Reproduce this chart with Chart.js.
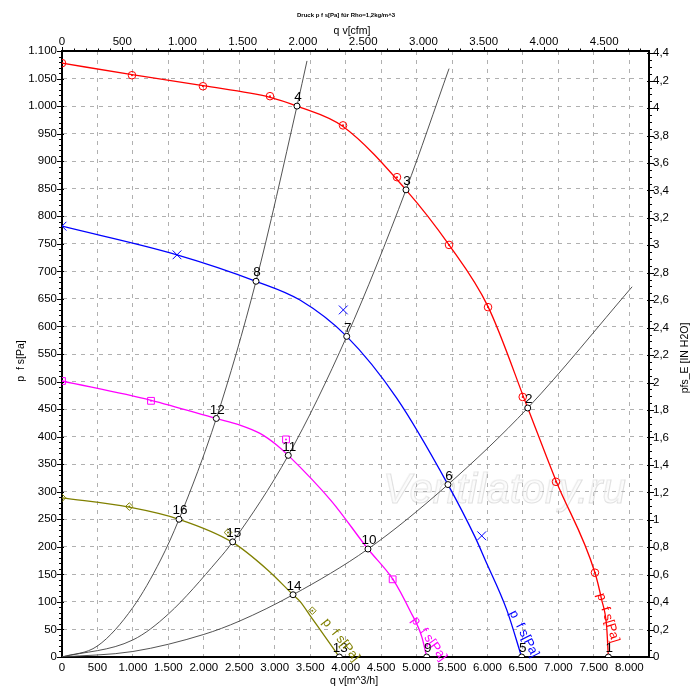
<!DOCTYPE html>
<html>
<head>
<meta charset="utf-8">
<script src="https://cdn.jsdelivr.net/npm/chart.js@4.4.1/dist/chart.umd.min.js"></script>
<style>
html,body{margin:0;padding:0;background:#fff;}
#wrap{width:700px;height:700px;position:relative;}
</style>
</head>
<body>
<div id="wrap"><canvas id="c" width="700" height="700"></canvas></div>
<script>
// ---------- DATA (q_v in m^3/h, p_fs in Pa) ----------
// Fan characteristic curves (line points)
const redQ = [0, 987, 1988, 2933, 3314, 3963, 4851, 5458, 6008, 6568, 6966, 7516, 7610, 7680, 7705];
const redP = [1078, 1057, 1037, 1016, 1000, 963, 848, 748, 636, 452, 320, 153, 104, 56, 0];
const blueQ = [0, 1622, 2736, 3356, 4015, 4720, 5443, 5824, 5965, 6271, 6482];
const blueP = [782, 730, 682, 648, 582, 470, 313, 218, 177, 86, 0];
const magQ = [0, 1255, 2176, 2510, 2792, 3027, 3191, 3800, 4315, 4672, 4908, 5073, 5143];
const magP = [501, 466, 433, 421, 406, 385, 366, 283, 196, 140, 84, 37, 0];
const oliveQ = [0, 949, 1650, 2407, 2900, 3258, 3356, 3521, 3709, 3911];
const oliveP = [289, 272, 250, 208, 158, 113, 101, 71, 37, 0];

// Measured markers on the fan curves
const redMarkQ = [0, 987, 1988, 2933, 3963, 4724, 5458, 6008, 6497, 6966, 7516];
const redMarkP = [1078, 1056, 1036, 1018, 965, 871, 748, 635, 472, 318, 153];
const blueMarkQ = [0, 1622, 3967, 5919];
const blueMarkP = [782, 730, 630, 220];
const magMarkQ = [0, 1255, 3159, 4663];
const magMarkP = [501, 465, 395, 141];
const oliveMarkQ = [0, 949, 2341, 3530];
const oliveMarkP = [289, 273, 226, 84];

// System (resistance) curves
const sysAQ = [0, 500, 1000, 1390, 1650, 2176, 2736, 3314, 3455];
const sysAP = [0, 20, 90, 176, 250, 433, 682, 1000, 1082];
const sysBQ = [0, 1000, 1500, 2200, 2407, 3191, 4015, 4851, 5458];
const sysBP = [0, 31, 78, 176, 209, 366, 582, 848, 1068];
const sysCQ = [0, 1000, 2000, 2500, 3258, 4315, 5443, 6568, 8040];
const sysCP = [0, 10, 41, 65, 113, 196, 313, 452, 672];

// Numbered operating points
const opNames = ['1','2','3','4','5','6','7','8','9','10','11','12','13','14','15','16'];
const opQ = [7705, 6568, 4851, 3314, 6482, 5443, 4015, 2736, 5143, 4315, 3191, 2176, 3911, 3258, 2407, 1650];
const opP = [0, 452, 848, 1000, 0, 313, 582, 682, 0, 196, 366, 433, 0, 113, 209, 250];

// Axis ranges / ticks
const xMax = 8278;            // m^3/h
const cfmFactor = 1.699;      // m^3/h per cfm
const yMax = 1100;            // Pa
const paPerInH2O = 249.089;
const xTicks = [0, 500, 1000, 1500, 2000, 2500, 3000, 3500, 4000, 4500, 5000, 5500, 6000, 6500, 7000, 7500, 8000];
const x2Ticks = [0, 500, 1000, 1500, 2000, 2500, 3000, 3500, 4000, 4500];
const yStep = 50, y2Step = 0.2;

// Texts
const chartTitle = 'Druck p f s[Pa] für Rho=1,2kg/m^3';
const xTitle = 'q v[m^3/h]';
const x2Title = 'q v[cfm]';
const yTitle = 'p  f s[Pa]';
const y2Title = 'pfs_E [IN H2O]';
const curveLabel = 'p  f s[Pa]';
const watermark = 'Ventilatory.ru';

// ---------- helpers ----------
const FONT = '"Liberation Sans", Arial, sans-serif';
const pts = (qs, ps) => qs.map((q, i) => ({x: q, y: ps[i]}));
function fmtThousands(v){
  const n = Math.round(v);
  if (n >= 1000) return Math.floor(n/1000) + '.' + String(n % 1000).padStart(3, '0');
  return String(n);
}
function fmtComma(v){
  const r = Math.round(v*10)/10;
  return String(r).replace('.', ',');
}
const RED = '#ff0000', BLUE = '#0000ff', MAG = '#ff00ff', OLIVE = '#808000', SYS = '#404040';

function lineDs(qs, ps, color, width, order){
  return {type:'line', data: pts(qs, ps), borderColor: color, borderWidth: width,
    pointRadius: 0, fill: false, cubicInterpolationMode: 'monotone', order: order};
}
function markDs(qs, ps, color, style, radius, order){
  return {type:'line', data: pts(qs, ps), showLine: false, pointStyle: style,
    pointRadius: radius, pointBorderColor: color, pointBackgroundColor: 'rgba(0,0,0,0)',
    pointBorderWidth: 1, borderColor: color, order: order};
}
function dotDs(qs, ps, color, order){
  return {type:'line', data: pts(qs, ps), showLine: false, pointStyle: 'circle',
    pointRadius: 1, pointBorderWidth: 0, pointBackgroundColor: color, borderColor: color, order: order};
}

const curveLabels = [
  {q: 7700, p: 71, angle: 73, color: RED},
  {q: 6515, p: 42, angle: 63, color: BLUE},
  {q: 5175, p: 33, angle: 54, color: MAG},
  {q: 3934, p: 31, angle: 51, color: OLIVE}
];

const extras = {
  id: 'extras',
  beforeDatasetsDraw(chart){
    const ctx = chart.ctx;
    ctx.save();
    ctx.font = 'italic 42px ' + FONT;
    ctx.textAlign = 'left';
    ctx.textBaseline = 'alphabetic';
    ctx.lineWidth = 1.2;
    ctx.strokeStyle = 'rgba(180,180,180,0.4)';
    ctx.strokeText(watermark, 383, 503);
    ctx.fillStyle = 'rgba(248,248,248,0.5)';
    ctx.fillText(watermark, 382, 502);
    ctx.restore();
  },
  afterDatasetsDraw(chart){
    const ctx = chart.ctx, xs = chart.scales.x, ys = chart.scales.y;
    ctx.save();
    ctx.font = '13.5px ' + FONT;
    ctx.fillStyle = '#000';
    ctx.textAlign = 'center';
    ctx.textBaseline = 'middle';
    opNames.forEach((n, i) => {
      ctx.fillText(n, xs.getPixelForValue(opQ[i]) + 1, ys.getPixelForValue(opP[i]) - 8.5);
    });
    ctx.font = '13px ' + FONT;
    curveLabels.forEach(l => {
      ctx.save();
      ctx.translate(xs.getPixelForValue(l.q), ys.getPixelForValue(l.p));
      ctx.rotate(l.angle * Math.PI / 180);
      ctx.fillStyle = l.color;
      ctx.fillText(curveLabel, 0, 0);
      ctx.restore();
    });
    ctx.restore();
  },
  afterDraw(chart){
    const ctx = chart.ctx, a = chart.chartArea;
    const ys = chart.scales.y, y2 = chart.scales.y2, x2 = chart.scales.x2;
    ctx.save();
    ctx.strokeStyle = '#000';
    ctx.lineWidth = 1;
    ctx.beginPath();
    for (let v = 0; v <= yMax + 0.001; v += 10){
      const y = Math.round(ys.getPixelForValue(v)) + 0.5;
      const major = Math.abs(v % yStep) < 0.001;
      ctx.moveTo(a.left - (major ? 5 : 3), y); ctx.lineTo(a.left + (major ? 2 : 0), y);
    }
    const y2Max = yMax / paPerInH2O;
    for (let k = 0; k * 0.05 <= y2Max + 1e-6; k++){
      const y = Math.round(y2.getPixelForValue(k * 0.05)) + 0.5;
      const major = k % 4 === 0;
      ctx.moveTo(a.right + (major ? 5 : 3), y); ctx.lineTo(a.right - (major ? 2 : 0), y);
    }
    const x2Max = xMax / cfmFactor;
    for (let v = 0; v <= x2Max; v += 100){
      const x = Math.round(x2.getPixelForValue(v)) + 0.5;
      const major = v % 500 === 0;
      ctx.moveTo(x, a.top - (major ? 4 : 2.5)); ctx.lineTo(x, a.top);
    }
    ctx.stroke();
    ctx.fillStyle = '#000';
    ctx.textAlign = 'center';
    ctx.textBaseline = 'middle';
    ctx.font = 'bold 6px ' + FONT;
    ctx.fillText(chartTitle, 346, 15);
    ctx.font = '10.5px ' + FONT;
    ctx.fillText(x2Title, 352, 31);
    ctx.fillText(xTitle, 354, 681);
    ctx.save();
    ctx.translate(21, 361); ctx.rotate(-Math.PI/2); ctx.fillText(yTitle, 0, 0);
    ctx.restore();
    ctx.save();
    ctx.translate(685, 358); ctx.rotate(-Math.PI/2); ctx.fillText(y2Title, 0, 0);
    ctx.restore();
    ctx.restore();
  }
};

const tickFont = {family: FONT, size: 11.5};
const GRID = '#b0b0b0';

new Chart(document.getElementById('c'), {
  type: 'line',
  data: {
    datasets: [
      {type:'line', data: pts(opQ, opP), showLine:false, pointStyle:'circle', pointRadius:3,
       pointBackgroundColor:'#fff', pointBorderColor:'#000', pointBorderWidth:1, borderColor:'#000', order:0},
      dotDs(redMarkQ, redMarkP, RED, 1),
      dotDs(magMarkQ, magMarkP, MAG, 1),
      dotDs(oliveMarkQ, oliveMarkP, OLIVE, 1),
      markDs(redMarkQ, redMarkP, RED, 'circle', 3.8, 2),
      markDs(blueMarkQ, blueMarkP, BLUE, 'crossRot', 6.2, 2),
      markDs(magMarkQ, magMarkP, MAG, 'rect', 4.8, 2),
      markDs(oliveMarkQ, oliveMarkP, OLIVE, 'rectRot', 3.8, 2),
      lineDs(redQ, redP, RED, 1.3, 3),
      lineDs(blueQ, blueP, BLUE, 1.3, 3),
      lineDs(magQ, magP, MAG, 1.3, 3),
      lineDs(oliveQ, oliveP, OLIVE, 1.3, 3),
      lineDs(sysAQ, sysAP, SYS, 0.9, 4),
      lineDs(sysBQ, sysBP, SYS, 0.9, 4),
      lineDs(sysCQ, sysCP, SYS, 0.9, 4)
    ]
  },
  options: {
    responsive: false,
    animation: false,
    devicePixelRatio: 1,
    layout: {padding: 0, autoPadding: false},
    plugins: {legend: {display: false}, tooltip: {enabled: false}, title: {display: false}},
    scales: {
      x: {
        type: 'linear', position: 'bottom', min: 0, max: xMax,
        afterBuildTicks(s){ s.ticks = xTicks.map(v => ({value: v})); },
        ticks: {autoSkip: false, maxRotation: 0,
          callback: v => fmtThousands(v), font: tickFont, color: '#000', padding: 4},
        grid: {color: GRID, lineWidth: 1, drawTicks: false},
        border: {display: true, color: '#000', width: 2, dash: [4, 5]},
        afterFit(s){ s.height = 43; s.paddingLeft = 0; s.paddingRight = 0; }
      },
      x2: {
        type: 'linear', position: 'top', min: 0, max: xMax / cfmFactor,
        afterBuildTicks(s){ s.ticks = x2Ticks.map(v => ({value: v})); },
        ticks: {autoSkip: false, maxRotation: 0,
          callback: v => fmtThousands(v), font: tickFont, color: '#000', padding: 2},
        grid: {display: true, drawOnChartArea: false, drawTicks: false},
        border: {display: true, color: '#000', width: 2},
        afterFit(s){ s.height = 51; s.paddingLeft = 0; s.paddingRight = 0; }
      },
      y: {
        type: 'linear', position: 'left', min: 0, max: yMax,
        ticks: {stepSize: yStep, includeBounds: false, autoSkip: false, maxTicksLimit: 100,
          callback: v => fmtThousands(v), font: tickFont, color: '#000', padding: 5},
        grid: {color: GRID, lineWidth: 1, drawTicks: false},
        border: {display: true, color: '#000', width: 2, dash: [4, 5]},
        afterFit(s){ s.width = 62; s.paddingTop = 0; s.paddingBottom = 0; }
      },
      y2: {
        type: 'linear', position: 'right', min: 0, max: yMax / paPerInH2O,
        ticks: {stepSize: y2Step, includeBounds: false, autoSkip: false, maxTicksLimit: 100,
          callback: v => fmtComma(v), font: tickFont, color: '#000', padding: 4},
        grid: {display: true, drawOnChartArea: false, drawTicks: false},
        border: {display: true, color: '#000', width: 2},
        afterFit(s){ s.width = 51; s.paddingTop = 0; s.paddingBottom = 0; }
      }
    }
  },
  plugins: [extras]
});
</script>
</body>
</html>
